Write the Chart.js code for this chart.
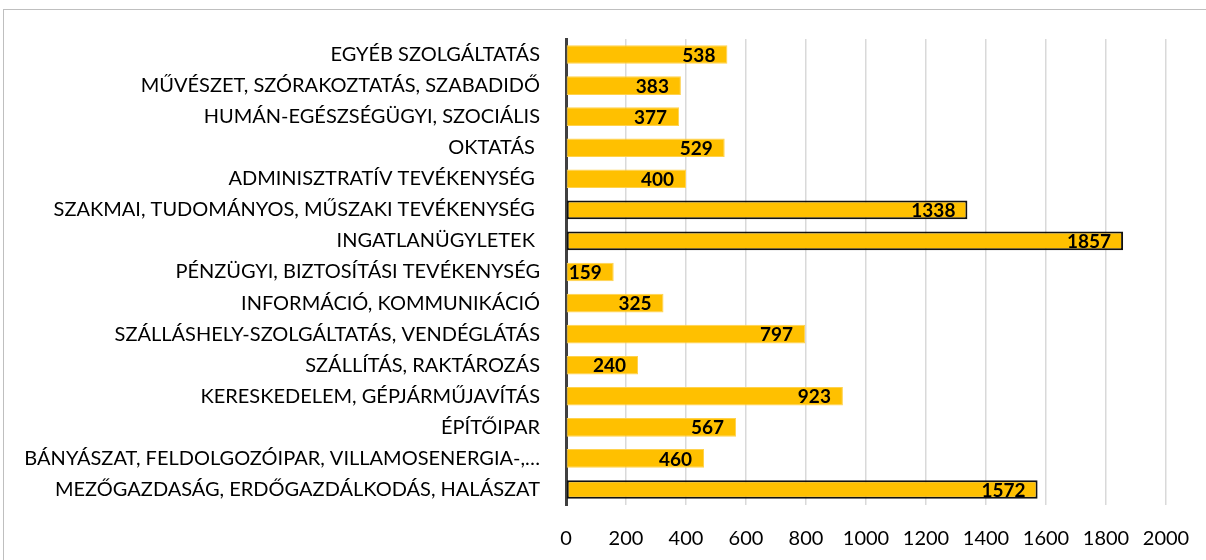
<!DOCTYPE html>
<html>
<head>
<meta charset="utf-8">
<script src="https://cdn.jsdelivr.net/npm/chart.js@4"></script>
<style>
    html, body { margin: 0; padding: 0; background: #fff; overflow: hidden; }
    #frame {
        position: absolute; left: 3px; top: 9px; width: 1220px; height: 570px;
        border: 1px solid #bfbfbf; box-sizing: border-box;
    }
    #wrap { position: absolute; left: 0; top: 0; width: 1206px; height: 560px; }
</style>
</head>
<body>
<div id="frame"></div>
<div id="wrap"><canvas id="barChart"></canvas></div>
<script>
const categories = [
    "EGYÉB SZOLGÁLTATÁS",
    "MŰVÉSZET, SZÓRAKOZTATÁS, SZABADIDŐ",
    "HUMÁN-EGÉSZSÉGÜGYI, SZOCIÁLIS",
    "OKTATÁS ",
    "ADMINISZTRATÍV TEVÉKENYSÉG ",
    "SZAKMAI, TUDOMÁNYOS, MŰSZAKI TEVÉKENYSÉG ",
    "INGATLANÜGYLETEK ",
    "PÉNZÜGYI, BIZTOSÍTÁSI TEVÉKENYSÉG",
    "INFORMÁCIÓ, KOMMUNIKÁCIÓ",
    "SZÁLLÁSHELY-SZOLGÁLTATÁS, VENDÉGLÁTÁS",
    "SZÁLLÍTÁS, RAKTÁROZÁS",
    "KERESKEDELEM, GÉPJÁRMŰJAVÍTÁS",
    "ÉPÍTŐIPAR",
    "BÁNYÁSZAT, FELDOLGOZÓIPAR, VILLAMOSENERGIA-,…",
    "MEZŐGAZDASÁG, ERDŐGAZDÁLKODÁS, HALÁSZAT"
];
const counts = [538, 383, 377, 529, 400, 1338, 1857, 159, 325, 797, 240, 923, 567, 460, 1572];
const xTicks = [0, 200, 400, 600, 800, 1000, 1200, 1400, 1600, 1800, 2000];

// the three largest sectors get a black outline
const outlined = counts.map(v => v > 1000);

const FONT = "Lato, 'Open Sans', sans-serif";

// value labels drawn just inside the end of each bar
const endLabels = {
    id: 'endLabels',
    afterDatasetsDraw(chart) {
        const ctx = chart.ctx;
        const meta = chart.getDatasetMeta(0);
        ctx.save();
        ctx.font = "bold 19px " + FONT;
        ctx.fillStyle = '#000';
        ctx.textAlign = 'right';
        ctx.textBaseline = 'middle';
        meta.data.forEach((bar, i) => {
            ctx.fillText(String(counts[i]), bar.x - 12, bar.y + 1);
        });
        ctx.restore();
    }
};

const ctx = document.getElementById('barChart').getContext('2d');
new Chart(ctx, {
    type: 'bar',
    data: {
        labels: categories,
        datasets: [{
            data: counts,
            backgroundColor: '#ffc000',
            borderColor: outlined.map(o => o ? '#111' : '#ffd24d'),
            borderWidth: outlined.map(o => o ? 2 : 1),
            borderSkipped: false,
            categoryPercentage: 1,
            barPercentage: 0.6
        }]
    },
    options: {
        indexAxis: 'y',
        responsive: true,
        maintainAspectRatio: false,
        animation: false,
        layout: { padding: { top: 39, right: 40, bottom: 0, left: 0 } },
        scales: {
            x: {
                min: 0,
                max: 2000,
                afterBuildTicks: axis => { axis.ticks = xTicks.map(v => ({ value: v })); },
                afterFit: axis => { axis.height = 55; axis.paddingRight = 0; axis.paddingLeft = 0; },
                grid: { color: '#d9d9d9', lineWidth: 1.5, drawTicks: false },
                border: { display: false },
                ticks: {
                    color: '#000', font: { family: FONT, size: 20 }, padding: 22,
                    callback: v => String(v)
                }
            },
            y: {
                afterFit: axis => { axis.width = 566; },
                grid: { display: false },
                border: { color: '#404040', width: 3 },
                ticks: { color: '#000', font: { family: FONT, size: 20 }, padding: 18, autoSkip: false }
            }
        },
        plugins: { legend: { display: false }, tooltip: { enabled: false } }
    },
    plugins: [endLabels]
});
</script>
</body>
</html>
